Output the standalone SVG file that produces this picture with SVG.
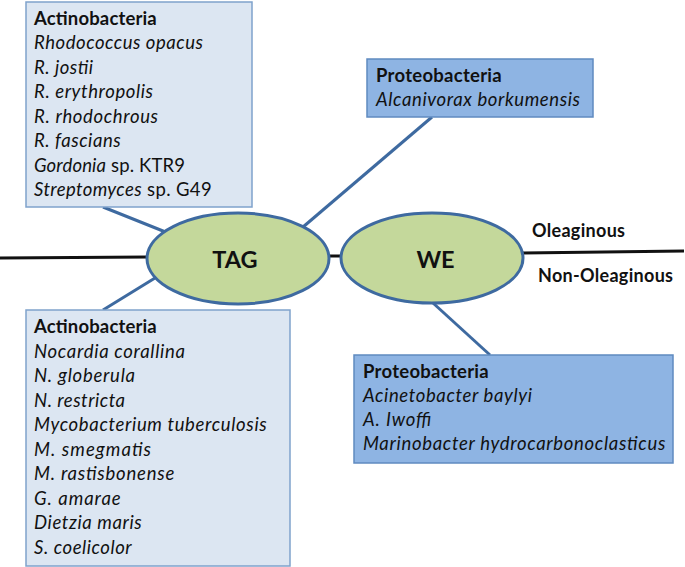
<svg xmlns="http://www.w3.org/2000/svg" width="685" height="567" viewBox="0 0 685 567">
<style>
text{font-family:Lato,"Open Sans","Liberation Sans",sans-serif;fill:#111;}
.t{font-size:18.5px;}
.b{font-weight:bold;}
.i{font-style:italic;}
.lightbox{fill:#dce6f2;stroke:#7fa2cc;stroke-width:1.5;}
.darkbox{fill:#8eb4e3;stroke:#5f8ac0;stroke-width:1.5;}
.conn{stroke:#3e6aa0;stroke-width:3;fill:none;}
.axis{stroke:#111;stroke-width:3;fill:none;}
.ell{fill:#c4d89b;stroke:#3e6aa0;stroke-width:3;}
.big{font-size:23.5px;font-weight:bold;text-anchor:middle;}
.lab{font-size:18px;font-weight:bold;}
</style>
<g id="connectors">
<line class="axis" x1="0" y1="258" x2="148" y2="257"/>
<line class="axis" x1="329" y1="256" x2="341" y2="256"/>
<line class="axis" x1="523" y1="253" x2="684" y2="251"/>
<line class="conn" x1="103" y1="207" x2="168" y2="233"/>
<line class="conn" x1="103" y1="310" x2="155" y2="278"/>
<line class="conn" x1="432" y1="117" x2="303" y2="227"/>
<line class="conn" x1="433" y1="303" x2="490" y2="355"/>
</g>
<g id="box-actino-top">
<rect class="lightbox" x="26" y="2" width="226" height="205"/>
<text class="t b" x="34" y="25" textLength="122.7">Actinobacteria</text>
<text class="t i" x="34" y="49" textLength="169">Rhodococcus opacus</text>
<text class="t i" x="34" y="73.5" textLength="59">R. jostii</text>
<text class="t i" x="34" y="98" textLength="119">R. erythropolis</text>
<text class="t i" x="34" y="122.5" textLength="124">R. rhodochrous</text>
<text class="t i" x="34" y="147" textLength="86.7">R. fascians</text>
<text class="t" x="34" y="171.5" textLength="151"><tspan class="i">Gordonia</tspan> sp. KTR9</text>
<text class="t" x="34" y="196" textLength="177.7"><tspan class="i">Streptomyces</tspan> sp. G49</text>
</g>
<g id="box-proteo-top">
<rect class="darkbox" x="367" y="59" width="226" height="58"/>
<text class="t b" x="376" y="82" textLength="125.7">Proteobacteria</text>
<text class="t i" x="376" y="106" textLength="204">Alcanivorax borkumensis</text>
</g>
<g id="box-actino-bottom">
<rect class="lightbox" x="26" y="310" width="264" height="256"/>
<text class="t b" x="34" y="333" textLength="122.7">Actinobacteria</text>
<text class="t i" x="34" y="357.5" textLength="151">Nocardia corallina</text>
<text class="t i" x="34" y="382" textLength="101">N. globerula</text>
<text class="t i" x="34" y="406.5" textLength="91">N. restricta</text>
<text class="t i" x="34" y="431" textLength="232.7">Mycobacterium tuberculosis</text>
<text class="t i" x="34" y="455.5" textLength="117">M. smegmatis</text>
<text class="t i" x="34" y="480" textLength="140.3">M. rastisbonense</text>
<text class="t i" x="34" y="504.5" textLength="86.7">G. amarae</text>
<text class="t i" x="34" y="529" textLength="107.7">Dietzia maris</text>
<text class="t i" x="34" y="553.5" textLength="97.7">S. coelicolor</text>
</g>
<g id="box-proteo-bottom">
<rect class="darkbox" x="354" y="355" width="319" height="108"/>
<text class="t b" x="363" y="378" textLength="125.7">Proteobacteria</text>
<text class="t i" x="363" y="402" textLength="169">Acinetobacter baylyi</text>
<text class="t i" x="363" y="426" textLength="68.3">A. Iwoffi</text>
<text class="t i" x="363" y="450" textLength="302.3">Marinobacter hydrocarbonoclasticus</text>
</g>
<g id="node-tag">
<ellipse class="ell" cx="238" cy="258.5" rx="91" ry="45.5"/>
<text class="big" x="235" y="268">TAG</text>
</g>
<g id="node-we">
<ellipse class="ell" cx="432" cy="258" rx="91" ry="45"/>
<text class="big" x="435.5" y="268">WE</text>
</g>
<g id="labels">
<text class="lab" x="532" y="237" textLength="93">Oleaginous</text>
<text class="lab" x="538" y="282" textLength="135">Non-Oleaginous</text>
</g>
</svg>
